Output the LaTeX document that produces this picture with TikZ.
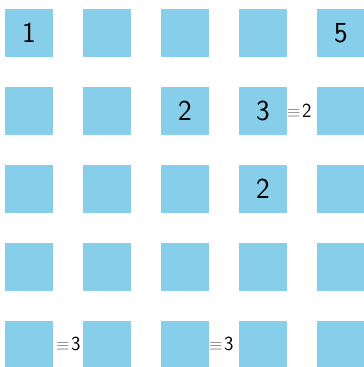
\documentclass[tikz,border=0pt]{standalone}
\begin{document}
\begin{tikzpicture}[x=1pt,y=-1pt,
  cell/.style={fill={rgb,255:red,135;green,206;blue,235}, draw=none, minimum size=48pt, inner sep=0pt},
  digit/.style={inner sep=0pt, font=\sffamily\fontsize{29}{34}\selectfont},
  mark label/.style={anchor=west, inner sep=0pt, font=\sffamily\fontsize{20}{24}\selectfont}]
\useasboundingbox (0,0) rectangle (364,367);
\foreach \c in {0,...,4}{
  \foreach \r in {0,...,4}{
    \node[cell] (s\c\r) at ({29+78*\c},{33+78*\r}) {};
  }
}
\node[digit] at (s00) (t00) {1};
\node[digit] at (s40) (t40) {5};
\node[digit] at (s21) (t21) {2};
\node[digit] at (s31) (t31) {3};
\node[digit] at (s32) (t32) {2};
\node[mark label] (l31) at (287,111) {\textcolor{black!60}{\fontsize{17}{18}\selectfont$\equiv$}\kern1.5pt2};
\node[mark label] (l04) at (56,344) {\textcolor{black!60}{\fontsize{17}{18}\selectfont$\equiv$}\kern1.5pt3};
\node[mark label] (l24) at (209,344) {\textcolor{black!60}{\fontsize{17}{18}\selectfont$\equiv$}\kern1.5pt3};
\end{tikzpicture}
\end{document}
